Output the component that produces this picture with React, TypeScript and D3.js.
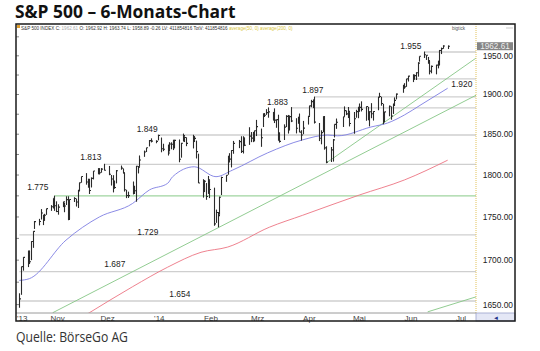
import React from "react";
import * as d3 from "d3";

// daily S&P 500 bars, Oct 2013 - Jun 2014
const dates = [
  "2013-10-09", "2013-10-10", "2013-10-11", "2013-10-14", "2013-10-15", "2013-10-16", "2013-10-17", "2013-10-18",
  "2013-10-21", "2013-10-22", "2013-10-23", "2013-10-24", "2013-10-25", "2013-10-28", "2013-10-29", "2013-10-30", "2013-10-31",
  "2013-11-01", "2013-11-04", "2013-11-05", "2013-11-06", "2013-11-07", "2013-11-08", "2013-11-11", "2013-11-12", "2013-11-13",
  "2013-11-14", "2013-11-15", "2013-11-18", "2013-11-19", "2013-11-20", "2013-11-21", "2013-11-22", "2013-11-25", "2013-11-26",
  "2013-11-27", "2013-11-29",
  "2013-12-02", "2013-12-03", "2013-12-04", "2013-12-05", "2013-12-06", "2013-12-09", "2013-12-10", "2013-12-11", "2013-12-12",
  "2013-12-13", "2013-12-16", "2013-12-17", "2013-12-18", "2013-12-19", "2013-12-20", "2013-12-23", "2013-12-24", "2013-12-26",
  "2013-12-27", "2013-12-30", "2013-12-31",
  "2014-01-02", "2014-01-03", "2014-01-06", "2014-01-07", "2014-01-08", "2014-01-09", "2014-01-10", "2014-01-13", "2014-01-14",
  "2014-01-15", "2014-01-16", "2014-01-17", "2014-01-21", "2014-01-22", "2014-01-23", "2014-01-24", "2014-01-27", "2014-01-28",
  "2014-01-29", "2014-01-30", "2014-01-31",
  "2014-02-03", "2014-02-04", "2014-02-05", "2014-02-06", "2014-02-07", "2014-02-10", "2014-02-11", "2014-02-12", "2014-02-13",
  "2014-02-14", "2014-02-18", "2014-02-19", "2014-02-20", "2014-02-21", "2014-02-24", "2014-02-25", "2014-02-26", "2014-02-27",
  "2014-02-28",
  "2014-03-03", "2014-03-04", "2014-03-05", "2014-03-06", "2014-03-07", "2014-03-10", "2014-03-11", "2014-03-12", "2014-03-13",
  "2014-03-14", "2014-03-17", "2014-03-18", "2014-03-19", "2014-03-20", "2014-03-21", "2014-03-24", "2014-03-25", "2014-03-26",
  "2014-03-27", "2014-03-28", "2014-03-31",
  "2014-04-01", "2014-04-02", "2014-04-03", "2014-04-04", "2014-04-07", "2014-04-08", "2014-04-09", "2014-04-10", "2014-04-11",
  "2014-04-14", "2014-04-15", "2014-04-16", "2014-04-17", "2014-04-21", "2014-04-22", "2014-04-23", "2014-04-24", "2014-04-25",
  "2014-04-28", "2014-04-29", "2014-04-30",
  "2014-05-01", "2014-05-02", "2014-05-05", "2014-05-06", "2014-05-07", "2014-05-08", "2014-05-09", "2014-05-12", "2014-05-13",
  "2014-05-14", "2014-05-15", "2014-05-16", "2014-05-19", "2014-05-20", "2014-05-21", "2014-05-22", "2014-05-23", "2014-05-27",
  "2014-05-28", "2014-05-29", "2014-05-30",
  "2014-06-02", "2014-06-03", "2014-06-04", "2014-06-05", "2014-06-06", "2014-06-09", "2014-06-10", "2014-06-11", "2014-06-12",
  "2014-06-13", "2014-06-16", "2014-06-17", "2014-06-18", "2014-06-19", "2014-06-20", "2014-06-23",
];

const highs = [
  1662.6, 1692.6, 1703.4, 1711.0, 1711.0, 1721.8, 1733.4, 1745.3, 1747.8, 1759.3, 1752.7, 1753.7, 1759.8, 1764.0, 1772.0, 1775.2, 1768.5,
  1765.0, 1768.0, 1767.0, 1774.5, 1774.5, 1770.8, 1773.4, 1771.8, 1782.0, 1791.0, 1798.2, 1802.3, 1795.6, 1795.5, 1797.2, 1804.8, 1808.4, 1808.4, 1808.4, 1813.6,
  1811.0, 1800.0, 1799.8, 1792.8, 1806.0, 1811.5, 1808.0, 1802.9, 1782.3, 1780.0, 1792.2, 1786.8, 1811.1, 1810.9, 1823.8, 1829.8, 1833.3, 1842.8, 1844.9, 1842.5, 1849.4,
  1845.9, 1838.2, 1837.2, 1840.1, 1840.0, 1843.2, 1843.2, 1843.5, 1839.3, 1850.8, 1847.5, 1846.2, 1849.3, 1847.7, 1842.1, 1826.0, 1795.0, 1793.9, 1790.3, 1798.8, 1793.9,
  1784.8, 1758.7, 1755.8, 1774.1, 1798.0, 1799.9, 1823.5, 1826.6, 1830.3, 1841.7, 1842.9, 1847.5, 1847.5, 1846.1, 1858.7, 1852.7, 1852.9, 1854.5, 1867.9,
  1857.0, 1876.2, 1876.5, 1881.4, 1883.6, 1877.9, 1882.4, 1868.4, 1874.4, 1852.4, 1862.3, 1873.8, 1874.1, 1873.5, 1884.0, 1870.0, 1871.9, 1875.9, 1855.0, 1866.6, 1873.0,
  1885.8, 1893.2, 1893.8, 1897.3, 1864.0, 1854.9, 1872.4, 1872.5, 1835.1, 1834.2, 1844.0, 1862.3, 1869.6, 1872.0, 1884.9, 1879.8, 1884.1, 1877.7, 1877.8, 1880.6, 1884.0,
  1888.6, 1891.3, 1885.0, 1884.4, 1878.8, 1889.0, 1878.8, 1897.0, 1902.2, 1897.1, 1888.2, 1878.0, 1886.0, 1884.9, 1888.4, 1896.3, 1901.3, 1912.3, 1914.5, 1920.0, 1924.0,
  1925.9, 1925.1, 1928.6, 1941.7, 1949.4, 1955.6, 1950.9, 1948.5, 1943.4, 1937.3, 1938.3, 1943.7, 1957.7, 1960.8, 1963.9, 1963.7,
];

const lows = [
  1646.5, 1660.9, 1688.0, 1692.1, 1695.5, 1700.0, 1714.1, 1736.0, 1740.1, 1747.0, 1740.5, 1745.5, 1752.5, 1757.2, 1760.0, 1757.2, 1755.7,
  1752.7, 1761.6, 1755.6, 1764.1, 1746.2, 1747.6, 1767.7, 1762.3, 1760.6, 1780.2, 1790.7, 1788.4, 1784.7, 1777.2, 1785.0, 1794.7, 1800.8, 1800.6, 1802.8, 1805.5,
  1799.8, 1787.3, 1779.1, 1783.4, 1789.9, 1806.4, 1801.8, 1780.1, 1772.3, 1772.5, 1776.7, 1777.2, 1768.0, 1801.9, 1810.0, 1822.1, 1828.0, 1834.9, 1839.8, 1838.8, 1842.4,
  1827.7, 1829.1, 1823.7, 1828.7, 1831.4, 1830.4, 1832.4, 1815.5, 1821.1, 1840.9, 1840.3, 1835.2, 1832.4, 1840.3, 1820.1, 1790.3, 1772.9, 1779.5, 1770.3, 1777.3, 1772.3,
  1739.7, 1743.1, 1737.9, 1752.6, 1776.0, 1791.8, 1800.4, 1815.2, 1809.2, 1825.9, 1832.8, 1826.8, 1826.2, 1835.3, 1836.8, 1840.2, 1840.2, 1841.1, 1847.7,
  1834.4, 1859.0, 1871.5, 1874.2, 1870.6, 1867.0, 1863.9, 1858.0, 1841.9, 1839.6, 1842.8, 1858.9, 1850.8, 1854.6, 1865.1, 1851.0, 1863.0, 1852.6, 1842.1, 1850.0, 1862.0,
  1873.0, 1883.8, 1882.7, 1863.3, 1841.5, 1837.5, 1852.4, 1830.9, 1814.4, 1815.8, 1816.3, 1846.0, 1856.7, 1859.0, 1872.0, 1873.9, 1870.2, 1859.7, 1850.6, 1870.6, 1870.0,
  1878.0, 1878.5, 1866.8, 1867.7, 1859.8, 1870.0, 1867.0, 1880.0, 1896.6, 1885.8, 1862.4, 1864.8, 1872.4, 1868.1, 1875.4, 1885.4, 1893.8, 1902.2, 1907.3, 1909.8, 1916.6,
  1915.9, 1918.8, 1918.6, 1922.9, 1942.4, 1947.2, 1944.6, 1939.6, 1925.8, 1927.2, 1925.9, 1933.6, 1937.3, 1952.3, 1959.2, 1958.9,
];

const closes = [
  1656.4, 1692.6, 1703.2, 1710.1, 1698.1, 1721.5, 1733.2, 1744.5, 1744.7, 1754.7, 1746.4, 1752.1, 1759.8, 1762.1, 1772.0, 1763.3, 1756.5,
  1761.6, 1767.9, 1763.0, 1770.5, 1747.2, 1770.6, 1771.9, 1767.7, 1782.0, 1790.6, 1798.2, 1791.5, 1787.9, 1781.4, 1795.9, 1804.8, 1802.5, 1802.8, 1807.2, 1805.8,
  1800.9, 1795.2, 1792.8, 1785.0, 1805.1, 1808.4, 1802.6, 1782.2, 1775.5, 1775.3, 1786.5, 1781.0, 1810.7, 1809.6, 1818.3, 1828.0, 1833.3, 1842.0, 1841.4, 1841.1, 1848.4,
  1832.0, 1831.4, 1826.8, 1837.9, 1837.5, 1838.1, 1842.4, 1819.2, 1838.9, 1848.4, 1845.9, 1838.7, 1843.8, 1844.9, 1828.5, 1790.3, 1781.6, 1792.5, 1774.2, 1794.2, 1782.6,
  1741.9, 1755.2, 1751.6, 1773.4, 1797.0, 1799.8, 1819.8, 1819.3, 1829.8, 1838.6, 1840.8, 1828.8, 1839.8, 1836.3, 1847.6, 1845.1, 1845.2, 1854.3, 1859.5,
  1845.7, 1873.9, 1873.8, 1877.0, 1878.0, 1877.2, 1867.6, 1868.2, 1846.3, 1841.1, 1858.8, 1872.3, 1860.8, 1872.0, 1866.5, 1857.4, 1865.6, 1852.6, 1849.0, 1857.6, 1872.3,
  1885.5, 1890.9, 1888.8, 1865.1, 1845.0, 1852.0, 1872.2, 1833.1, 1815.7, 1830.6, 1843.0, 1862.3, 1864.9, 1871.9, 1879.6, 1875.4, 1878.6, 1863.4, 1869.4, 1878.3, 1884.0,
  1883.7, 1881.1, 1884.7, 1867.7, 1878.2, 1875.6, 1878.5, 1896.7, 1897.5, 1888.5, 1870.9, 1877.9, 1885.1, 1872.8, 1888.0, 1892.5, 1900.5, 1911.9, 1909.8, 1920.0, 1923.6,
  1925.0, 1924.2, 1927.9, 1940.5, 1949.4, 1951.3, 1950.8, 1943.9, 1930.1, 1936.2, 1937.8, 1942.0, 1957.0, 1959.5, 1962.9, 1962.6,
];

// moving averages
const ma50Dates = [
  "2013-10-09", "2013-10-15", "2013-11-06", "2013-11-26", "2013-12-16", "2013-12-26", "2014-01-06", "2014-01-09", "2014-01-22",
  "2014-02-04", "2014-02-14", "2014-03-07", "2014-03-28", "2014-04-12", "2014-04-18", "2014-05-08", "2014-05-18", "2014-05-28",
  "2014-06-07", "2014-06-23",
];
const ma50Values = [
  1677, 1679, 1723, 1750, 1766, 1782, 1790, 1798, 1810, 1798, 1806, 1827, 1843, 1849, 1848, 1859, 1864, 1874, 1887, 1908,
];

const ma200Dates = [
  "2013-11-12", "2013-11-20", "2013-12-16", "2014-01-06", "2014-01-26", "2014-02-11", "2014-03-08", "2014-03-28", "2014-05-01",
  "2014-05-28", "2014-06-23",
];
const ma200Values = [1632, 1641, 1670, 1692, 1709, 1715, 1738, 1752, 1776, 1794, 1818];

// horizontal support / resistance levels
const levelValues = [1955, 1920, 1897, 1883, 1849, 1813, 1775, 1729, 1687, 1654];
const levelLabels = ["1.955", "1.920", "1.897", "1.883", "1.849", "1.813", "1.775", "1.729", "1.687", "1.654"];
const levelStarts = [
  "2014-06-09", "2014-06-03", "2014-04-04", "2014-03-21", "2013-12-31", "2013-11-29", "2013-10-30", "2013-10-09", "2013-10-09", "2013-10-09",
];

// trend lines: start date/value, end date/value
const trendStartDates = ["2013-10-29", "2014-04-11", "2014-06-11"];
const trendStartValues = [1641, 1814.4, 1642];
const trendEndDates = ["2014-07-10", "2014-07-10", "2014-07-10"];
const trendEndValues = [1899, 1947, 1658.6];

const monthTicks = ["2013-10-01", "2013-11-01", "2013-12-01", "2014-01-01", "2014-02-01", "2014-03-01", "2014-04-01", "2014-05-01", "2014-06-01", "2014-07-01"];
const monthLabels = ["'13", "Nov", "Dez", "'14", "Feb", "Mrz", "Apr", "Mai", "Jun", "Jul"];

const priceTicks = [1650, 1700, 1750, 1800, 1850, 1900, 1950];
const lastPrice = 1962.61;

// label offsets [dx, dy] from level line start, text-anchor end
const labelOffsets = [
  [-3, -3], [58, 8], [9, -4], [-3, -3], [0, -3], [-3, -4], [-6, -6], [139, 0], [106, -5], [171, -4],
];

const parse = d3.timeParse("%Y-%m-%d");

const W = 540;
const H = 351;
const frame = { left: 16, right: 515, top: 24, bottom: 321 };
const plot = { left: 16, right: 476, top: 31, bottom: 313 };

export default function App() {
  const x = d3
    .scaleTime()
    .domain([parse("2013-10-07"), parse("2014-07-10")])
    .range([plot.left, plot.right]);

  const y = d3.scaleLog().domain([1654, 1955]).range([301, 52]);

  const line = d3
    .line<[Date, number]>()
    .x((d) => x(d[0]))
    .y((d) => y(d[1]))
    .curve(d3.curveMonotoneX);

  const ma50 = ma50Dates.map((d, i) => [parse(d), ma50Values[i]] as [Date, number]);
  const ma200 = ma200Dates.map((d, i) => [parse(d), ma200Values[i]] as [Date, number]);

  const minorTicks = d3.range(1650, 1990, 25);
  const font = "'Liberation Sans', Arial, sans-serif";

  return (
    <svg
      width={W}
      height={H}
      style={{ position: "absolute", left: 0, top: 0, background: "#fff" }}
    >
      <defs>
        <clipPath id="plotClip">
          <rect x={plot.left} y={plot.top} width={plot.right - plot.left} height={plot.bottom - plot.top} />
        </clipPath>
      </defs>

      <text x={15} y={18} fontFamily="'Open Sans', sans-serif" fontWeight={700} fontSize={17.4} fill="#111">
        S&amp;P 500 – 6-Monats-Chart
      </text>

      {/* header strip */}
      <rect x={17} y={25} width={3} height={3} fill="#e0a030" />
      <text x={21} y={29.5} fontFamily={font} fontSize={4.6} fill="#333">
        S&amp;P 500 INDEX C: <tspan fill="#aaa">1962.61</tspan> O: 1962.92 H: 1963.74 L: 1958.89 -0.26 LV: 411854816 TotV: 411854816{" "}
        <tspan fill="#d8c640">average(50, 0) average(200, 0)</tspan>
      </text>
      <text x={465} y={29.5} fontFamily={font} fontSize={4.6} fill="#555" textAnchor="end">
        bigtick
      </text>
      <line x1={506} x2={513} y1={28} y2={28} stroke="#bbb" strokeWidth={0.8} />

      {/* left minor ticks */}
      {minorTicks.map((v) => (
        <line key={v} x1={plot.left} x2={plot.left + 3} y1={y(v)} y2={y(v)} stroke="#888" strokeWidth={1} />
      ))}

      <g clipPath="url(#plotClip)">
        {/* levels */}
        {levelValues.map((v, i) => (
          <line
            key={v}
            x1={x(parse(levelStarts[i]))}
            x2={plot.right}
            y1={y(v)}
            y2={y(v)}
            stroke={v === 1775 ? "#9fd49f" : "#cfcfcf"}
            strokeWidth={v === 1775 ? 1.3 : 1.3}
          />
        ))}

        {/* trend lines */}
        {trendStartDates.map((d, i) => (
          <line
            key={d}
            x1={x(parse(d))}
            y1={y(trendStartValues[i])}
            x2={x(parse(trendEndDates[i]))}
            y2={y(trendEndValues[i])}
            stroke="#86c686"
            strokeWidth={0.9}
          />
        ))}

        <path d={line(ma200) ?? ""} fill="none" stroke="#ec7482" strokeWidth={0.9} />
        <path d={line(ma50) ?? ""} fill="none" stroke="#7e7ee2" strokeWidth={0.9} />

        {/* OHLC bars */}
        {dates.map((d, i) => {
          const cx = Math.round(x(parse(d))) + 0.5;
          return (
            <g key={d} stroke="#2b2b2b" strokeWidth={1.1}>
              <line x1={cx} x2={cx} y1={y(highs[i])} y2={y(lows[i])} />
              <line x1={cx} x2={cx + 1.5} y1={y(closes[i])} y2={y(closes[i])} />
            </g>
          );
        })}
      </g>

      {/* level labels */}
      {levelValues.map((v, i) => (
        <text
          key={v}
          x={x(parse(levelStarts[i])) + labelOffsets[i][0]}
          y={y(v) + labelOffsets[i][1]}
          fontFamily={font}
          fontSize={8.4}
          fill="#222"
          textAnchor="end"
        >
          {levelLabels[i]}
        </text>
      ))}

      {/* right price axis */}
      <line x1={plot.right} x2={plot.right} y1={frame.top} y2={plot.bottom} stroke="#e2c25a" strokeWidth={1} strokeDasharray="1,1" />
      {priceTicks.map((v) => (
        <text key={v} x={513} y={y(v) + 3} fontFamily={font} fontSize={8.4} fill="#222" textAnchor="end">
          {v.toFixed(2)}
        </text>
      ))}
      <rect x={477} y={y(lastPrice) - 4} width={36} height={8} fill="#858585" />
      <text x={495} y={y(lastPrice) + 3} fontFamily={font} fontSize={8.2} fill="#eee" textAnchor="middle">
        {lastPrice.toFixed(2)}
      </text>

      {/* time axis */}
      <line x1={plot.left} x2={plot.right} y1={plot.bottom} y2={plot.bottom} stroke="#9a9a9a" strokeWidth={1} />
      {monthTicks.map((d, i) => {
        const px = x(parse(d));
        const clamped = px < plot.left + 4;
        return (
          <text
            key={d}
            x={clamped ? plot.left + 1 : px}
            y={321}
            fontFamily={font}
            fontSize={8}
            fill="#444"
            textAnchor={clamped ? "start" : "middle"}
          >
            {monthLabels[i]}
          </text>
        );
      })}
      <rect x={plot.right} y={plot.bottom} width={frame.right - plot.right} height={frame.bottom - plot.bottom} fill="#e4e7f6" stroke="#9aa2cc" strokeWidth={0.8} />
      <text x={496} y={320} fontFamily={font} fontSize={6} fill="#22338a" textAnchor="middle">
        ◄
      </text>

      {/* frame */}
      <rect
        x={frame.left}
        y={frame.top}
        width={frame.right - frame.left}
        height={frame.bottom - frame.top}
        fill="none"
        stroke="#1a1a1a"
        strokeWidth={1.5}
      />

      <text x={16} y={342} fontFamily="'Open Sans', sans-serif" fontSize={15} fill="#333" textLength={112} lengthAdjust="spacingAndGlyphs">
        Quelle: BörseGo AG
      </text>
    </svg>
  );
}
